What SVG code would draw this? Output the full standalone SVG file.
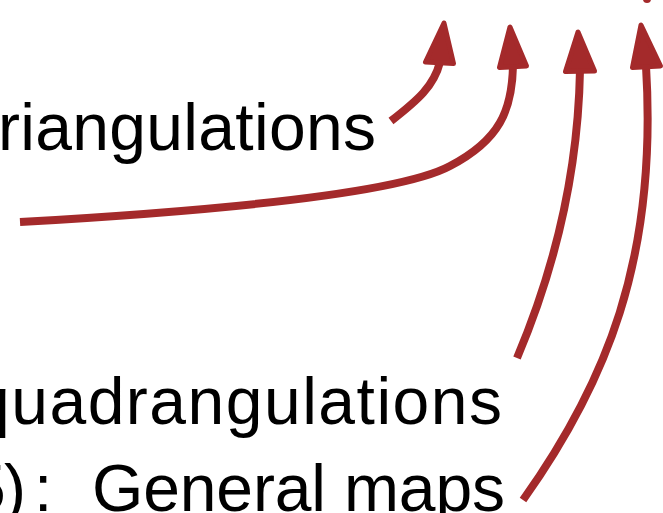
<svg xmlns="http://www.w3.org/2000/svg" width="663" height="513" viewBox="0 0 663 513">
<style>
.lbl{font-family:"Liberation Sans",Arial,sans-serif;font-size:66px;fill:#000}
.shaft{fill:none;stroke:#a42a2b;stroke-width:8}
.head{fill:#a42a2b;stroke:#a42a2b;stroke-width:5;stroke-linejoin:round}
</style>
<rect width="663" height="513" fill="#fff"/>
<g id="node-triangulations"><text class="lbl" x="-2" y="150" textLength="378" lengthAdjust="spacing">riangulations</text></g>
<g id="node-quadrangulations"><text class="lbl" x="-27" y="424" textLength="529" lengthAdjust="spacing">quadrangulations</text></g>
<g id="node-general"><text class="lbl" y="511"><tspan x="-31">5</tspan><tspan x="4">)</tspan><tspan x="34">:</tspan><tspan x="92" textLength="413" lengthAdjust="spacing">General maps</tspan></text></g>
<g id="connectors">
<path class="shaft" d="M391,121 C418,100 434,86 440,62"/>
<polygon class="head" points="444,23 425.5,62 453.5,63.5"/>
<path class="shaft" d="M20,222 C230,210 400,193 450,166 C500,140 512,110 513,66"/>
<polygon class="head" points="510,27 499.5,67.5 526.5,66"/>
<path class="shaft" d="M517,358 C550,280 578,180 580,70"/>
<polygon class="head" points="578,32 565.5,71.5 594.5,71"/>
<path class="shaft" d="M523,500 C605,385 658,260 646,66"/>
<polygon class="head" points="641,25 632.5,67.5 660.5,66"/>
<path class="shaft" d="M647,-12 L647,-1" stroke-linecap="round" stroke-width="9"/>
</g>
</svg>
